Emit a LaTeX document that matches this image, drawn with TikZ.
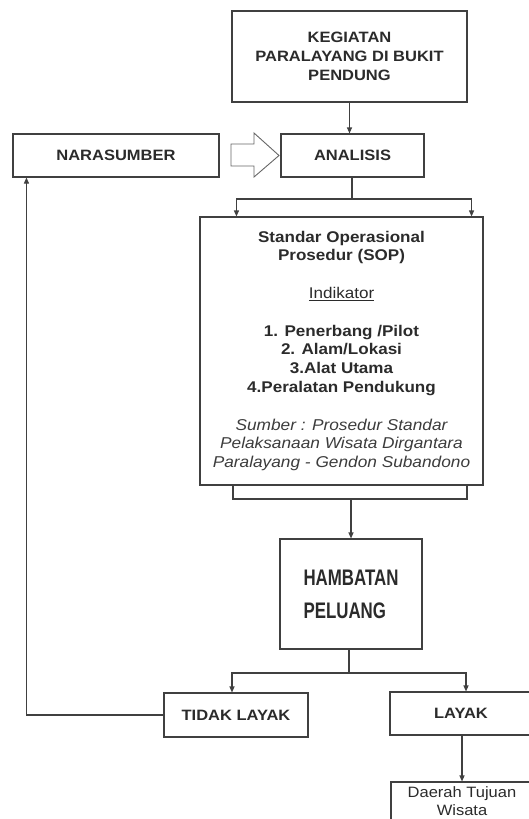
\documentclass[tikz,border=0pt]{standalone}
\usepackage{fontspec}
\setmainfont[FakeStretch=1.1]{Liberation Sans}
\newfontfamily\narrowfont[FakeStretch=0.75]{Liberation Sans}
\usetikzlibrary{arrows.meta, positioning}
\definecolor{linegray}{HTML}{404040}
\definecolor{textgray}{HTML}{2B2B2B}
\definecolor{notegray}{HTML}{3C3C3C}

\begin{document}
\begin{tikzpicture}[
    x=1pt, y=-1pt,
    >={Triangle[length=6pt, width=5pt]},
    line width=1.1pt,
    color=linegray,
    text=textgray,
    box/.style={draw, rectangle, inner sep=0pt, align=center, font=\fontsize{15}{18.8}\selectfont\bfseries}
]
\useasboundingbox (0,0) rectangle (528,819);

% top box
\node[box, minimum width=235pt, minimum height=91pt] (kegiatan) at (349.5,56.5) {KEGIATAN\\PARALAYANG DI BUKIT\\PENDUNG};

% second row
\node[box, minimum width=206pt, minimum height=43pt] (narasumber) at (116,155.5) {NARASUMBER};
\node[box, minimum width=143pt, minimum height=43pt] (analisis) at (352.5,155.5) {ANALISIS};

% hollow arrow between them
\draw[line width=0.9pt, color=linegray!80] (231,144) -- (254,144) -- (254,133) -- (279,155.5) -- (254,177) -- (254,166) -- (231,166) -- cycle;

% SOP box
\node[box, font=\fontsize{15.5}{18.8}\selectfont\bfseries, minimum width=283pt, minimum height=268pt] (sop) at (341.5,351) {Standar Operasional\\Prosedur (SOP)\\[18.8pt]
    {\mdseries\underline{Indikator}}\\[18.8pt]
    1. Penerbang /Pilot\\2. Alam/Lokasi\\3.Alat Utama\\4.Peralatan Pendukung\\[18.8pt]
    {\fontsize{15.7}{18.8}\selectfont\mdseries\itshape\color{notegray}Sumber : Prosedur Standar}\\
    {\fontsize{15.7}{18.8}\selectfont\mdseries\itshape\color{notegray}Pelaksanaan Wisata Dirgantara}\\
    {\fontsize{15.7}{18.8}\selectfont\mdseries\itshape\color{notegray}Paralayang - Gendon Subandono}};

% hambatan box
\node[box, minimum width=142pt, minimum height=110pt, align=left, font=\narrowfont\fontsize{22.5}{33}\selectfont\bfseries] (hambatan) at (351,594) {HAMBATAN\\PELUANG};

% results
\node[box, minimum width=144pt, minimum height=44pt] (tidaklayak) at (236,715) {TIDAK LAYAK};
\node[box, minimum width=142pt, minimum height=43pt] (layak) at (461,713.5) {LAYAK};
\node[box, font=\fontsize{15}{18.5}\selectfont, minimum width=142pt, minimum height=38pt] (daerah) at (462,801) {Daerah Tujuan\\Wisata};

% forks
\coordinate (forktop) at (352,199);
\coordinate (joinL) at (233,499);
\coordinate (joinR) at (467,499);
\coordinate (forkbot) at (349,673);

% arrows
\draw[->] (kegiatan.south) -- (kegiatan.south |- analisis.north);
\draw (analisis.south -| forktop) -- (forktop);
\draw[->] (forktop) -| ([xshift=37pt]sop.north west);
\draw[->] (forktop) -| ([xshift=-12pt]sop.north east);
\draw (joinL |- sop.south) -- (joinL) -- (joinR) -- (joinR |- sop.south);
\draw[->] (hambatan.north |- joinL) -- (hambatan.north);
\draw (hambatan.south -| forkbot) -- (forkbot);
\draw[->] (forkbot) -| ([xshift=-4pt]tidaklayak.north);
\draw[->] (forkbot) -| ([xshift=5pt]layak.north);
\draw[->] (daerah.north |- layak.south) -- (daerah.north);
\draw[->] (tidaklayak.west) -| ([xshift=14pt]narasumber.south west);

\end{tikzpicture}
\end{document}
